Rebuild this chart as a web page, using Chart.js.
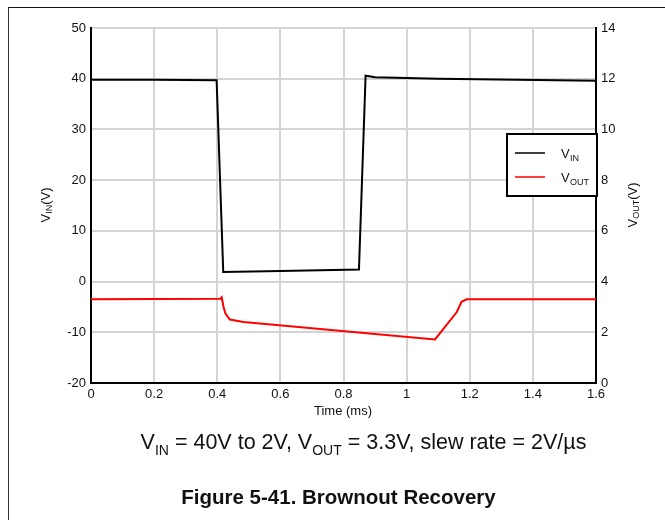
<!DOCTYPE html>
<html>
<head>
<meta charset="utf-8">
<script src="https://cdn.jsdelivr.net/npm/chart.js@4.4.1/dist/chart.umd.min.js"></script>
<style>
  html, body { margin: 0; padding: 0; background: #fff; }
  #wrap { position: relative; width: 665px; height: 520px; overflow: hidden; font-family: "Liberation Sans", Arial, sans-serif; }
  #frame { position: absolute; left: 8px; top: 7px; width: 700px; height: 600px; border-left: 1.5px solid #333; border-top: 1.5px solid #111; }
  canvas { position: absolute; left: 0; top: 0; }
  .cap { position: absolute; width: 665px; text-align: center; color: #111; white-space: nowrap; }
  #cond { top: 429px; left: 31px; font-size: 21.5px; line-height: 26px; }
  #cond sub { font-size: 14px; vertical-align: -6px; line-height: 0; }
  #fig { top: 484px; left: 6px; font-size: 20.5px; font-weight: bold; line-height: 26px; }
</style>
</head>
<body>
<div id="wrap">
  <div id="frame"></div>
  <canvas id="chart" width="665" height="520"></canvas>
  <div class="cap" id="cond">V<sub>IN</sub> = 40V to 2V, V<sub>OUT</sub> = 3.3V, slew rate = 2V/µs</div>
  <div class="cap" id="fig">Figure 5-41. Brownout Recovery</div>
</div>
<script>
// time in ms
const vinTime = [0, 0.2, 0.398, 0.419, 0.6, 0.849, 0.870, 0.9, 1.1, 1.6];
const vinValues = [39.8, 39.8, 39.7, 1.9, 2.1, 2.4, 40.6, 40.3, 40.0, 39.6];

const voutTime = [0, 0.410, 0.414, 0.420, 0.426, 0.44, 0.483, 1.09, 1.159, 1.174, 1.19, 1.6];
const voutValues = [3.3, 3.32, 3.38, 3.0, 2.74, 2.5, 2.41, 1.72, 2.8, 3.2, 3.3, 3.3];

const xTicks = [0, 0.2, 0.4, 0.6, 0.8, 1, 1.2, 1.4, 1.6];

const FONT = "Liberation Sans, Arial, sans-serif";

function toPoints(xs, ys) {
  return xs.map((x, i) => ({ x: x, y: ys[i] }));
}

// draw "V" + subscript + rest, rotated
function drawSubText(ctx, parts, x, y, rotate) {
  ctx.save();
  ctx.translate(x, y);
  if (rotate) ctx.rotate(-Math.PI / 2);
  ctx.fillStyle = "#111";
  ctx.textBaseline = "alphabetic";
  let total = 0;
  parts.forEach((p) => {
    ctx.font = (p.sub ? "9px " : "13px ") + FONT;
    total += ctx.measureText(p.t).width;
  });
  let cx = -total / 2;
  parts.forEach((p) => {
    ctx.font = (p.sub ? "9px " : "13px ") + FONT;
    ctx.fillText(p.t, cx, p.sub ? 7 : 4.5);
    cx += ctx.measureText(p.t).width;
  });
  ctx.restore();
}

const extras = {
  id: "extras",
  afterDraw(chart) {
    const ctx = chart.ctx;
    drawSubText(ctx, [{ t: "V" }, { t: "IN", sub: true }, { t: "(V)" }], 45, 205, true);
    drawSubText(ctx, [{ t: "V" }, { t: "OUT", sub: true }, { t: "(V)" }], 632, 205, true);

    // x title
    ctx.save();
    ctx.fillStyle = "#111";
    ctx.font = "13px " + FONT;
    ctx.textAlign = "center";
    ctx.textBaseline = "middle";
    ctx.fillText("Time (ms)", 343, 411);
    ctx.restore();

    // legend box
    const bx = 507, by = 134, bw = 90, bh = 62;
    ctx.save();
    ctx.fillStyle = "#fff";
    ctx.fillRect(bx, by, bw, bh);
    ctx.strokeStyle = "#000";
    ctx.lineWidth = 2;
    ctx.strokeRect(bx, by, bw, bh);
    ctx.lineWidth = 1.5;
    ctx.strokeStyle = "#000";
    ctx.beginPath(); ctx.moveTo(515, 153); ctx.lineTo(545, 153); ctx.stroke();
    ctx.strokeStyle = "#ff0000";
    ctx.beginPath(); ctx.moveTo(515, 177); ctx.lineTo(545, 177); ctx.stroke();
    ctx.fillStyle = "#111";
    ctx.textBaseline = "alphabetic";
    ctx.font = "13px " + FONT;
    ctx.fillText("V", 561, 158);
    ctx.fillText("V", 561, 182);
    ctx.font = "9px " + FONT;
    ctx.fillText("IN", 570, 161);
    ctx.fillText("OUT", 570, 185);
    ctx.restore();
  },
};

new Chart(document.getElementById("chart"), {
  type: "line",
  data: {
    datasets: [
      {
        label: "VIN",
        data: toPoints(vinTime, vinValues),
        borderColor: "#000",
        borderWidth: 2,
        pointRadius: 0,
        tension: 0,
        yAxisID: "y",
      },
      {
        label: "VOUT",
        data: toPoints(voutTime, voutValues),
        borderColor: "#ff0000",
        borderWidth: 2,
        pointRadius: 0,
        tension: 0,
        yAxisID: "y2",
      },
    ],
  },
  options: {
    responsive: false,
    animation: false,
    layout: { padding: { top: 28, left: 0, right: 0, bottom: 0 } },
    plugins: {
      legend: { display: false },
      tooltip: { enabled: false },
    },
    scales: {
      x: {
        type: "linear",
        min: 0,
        max: 1.6,
        afterBuildTicks: (s) => { s.ticks = xTicks.map((v) => ({ value: v })); },
        afterFit: (s) => { s.height = 137; },
        ticks: {
          padding: 4,
          color: "#111",
          font: { family: FONT, size: 13 },
          callback: (v) => String(Math.round(v * 10) / 10),
        },
        grid: { color: "#d4d4d4", lineWidth: 2, drawTicks: false },
        border: { color: "#000", width: 2 },
      },
      y: {
        position: "left",
        min: -20,
        max: 50,
        afterFit: (s) => { s.width = 91; },
        ticks: {
          stepSize: 10,
          padding: 5,
          color: "#111",
          font: { family: FONT, size: 13 },
        },
        grid: { color: "#d4d4d4", lineWidth: 2, drawTicks: false },
        border: { color: "#000", width: 2 },
      },
      y2: {
        position: "right",
        min: 0,
        max: 14,
        afterFit: (s) => { s.width = 69; },
        ticks: {
          stepSize: 2,
          padding: 5,
          color: "#111",
          font: { family: FONT, size: 13 },
        },
        grid: { drawOnChartArea: false, drawTicks: false },
        border: { color: "#000", width: 2 },
      },
    },
  },
  plugins: [extras],
});
</script>
</body>
</html>
